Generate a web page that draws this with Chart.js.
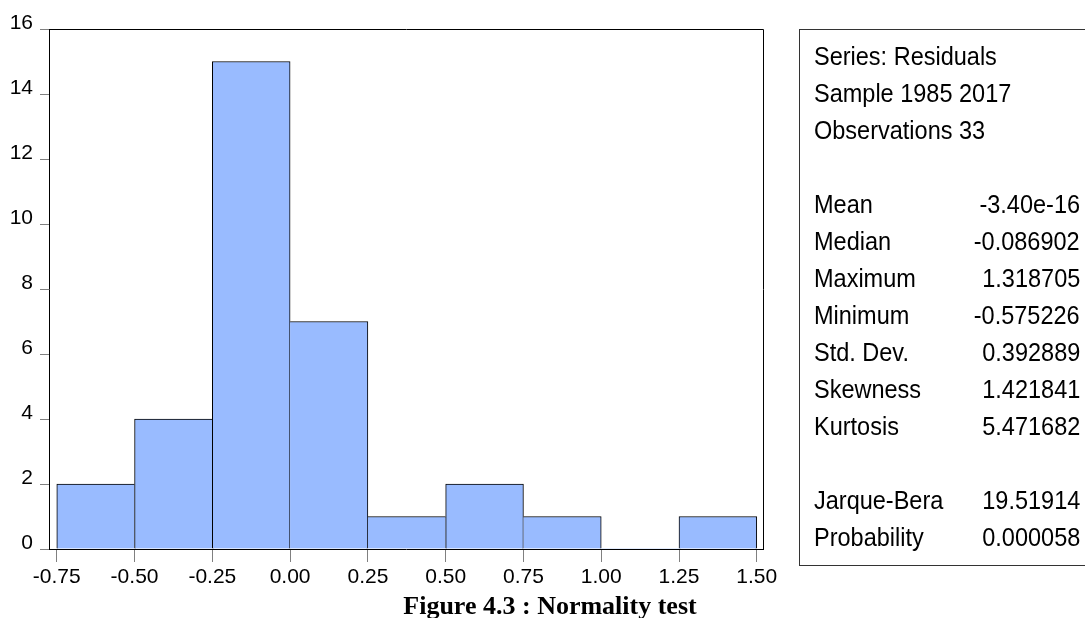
<!DOCTYPE html>
<html lang="en">

<head>
    <meta charset="UTF-8">
    <title>Normality test</title>
    <script src="https://cdn.jsdelivr.net/npm/chart.js"></script>
    <style>
        html, body { margin: 0; padding: 0; background: #fff; overflow: hidden; }
        #wrap { position: relative; width: 1085px; height: 618px; overflow: hidden; }
        #histChart { position: absolute; left: 0; top: 0; }
        #stats {
            position: absolute; left: 799px; top: 29px; width: 320px; height: 537px;
            border: 1px solid #333; box-sizing: border-box; padding-top: 8px;
            font-family: "Liberation Sans", Arial, sans-serif; font-size: 25px; color: #000;
        }
        .row { position: relative; height: 37px; line-height: 37px; margin-left: 14px; width: 266px; white-space: nowrap; }
        .row .lab { position: absolute; left: 0; transform: scaleX(0.94); transform-origin: left center; }
        .row .val { position: absolute; right: 0; transform: scaleX(0.94); transform-origin: right center; }
        #caption {
            position: absolute; left: 250px; width: 600px; top: 591px; line-height: 30px;
            text-align: center; font-family: "Liberation Serif", "Times New Roman", serif;
            font-weight: bold; font-size: 26px; color: #000;
        }
    </style>
</head>

<body>
    <div id="wrap">
        <canvas id="histChart" width="1085" height="618"></canvas>
        <div id="stats"></div>
        <div id="caption">Figure 4.3 : Normality test</div>
    </div>

    <script>
        // histogram data (bin edges + counts)
        const binEdges = [-0.75, -0.50, -0.25, 0.00, 0.25, 0.50, 0.75, 1.00, 1.25, 1.50];
        const counts = [2, 4, 15, 7, 1, 2, 1, 0, 1];
        const xTickValues = [-0.75, -0.50, -0.25, 0.00, 0.25, 0.50, 0.75, 1.00, 1.25, 1.50];
        const yTickValues = [0, 2, 4, 6, 8, 10, 12, 14, 16];

        // stats panel
        const headerLines = ["Series: Residuals", "Sample 1985 2017", "Observations 33"];
        const statLabels = ["Mean", "Median", "Maximum", "Minimum", "Std. Dev.", "Skewness", "Kurtosis"];
        const statValues = ["-3.40e-16", "-0.086902", "1.318705", "-0.575226", "0.392889", "1.421841", "5.471682"];
        const testLabels = ["Jarque-Bera", "Probability"];
        const testValues = ["19.51914", "0.000058"];

        const FONT = "'Liberation Sans', Arial, sans-serif";

        function addRow(box, label, value) {
            const row = document.createElement("div");
            row.className = "row";
            const l = document.createElement("span");
            l.className = "lab";
            l.textContent = label;
            row.appendChild(l);
            if (value !== undefined) {
                const v = document.createElement("span");
                v.className = "val";
                v.textContent = value;
                row.appendChild(v);
            }
            box.appendChild(row);
        }

        const box = document.getElementById("stats");
        headerLines.forEach(t => addRow(box, t));
        addRow(box, "\u00a0");
        statLabels.forEach((t, i) => addRow(box, t, statValues[i]));
        addRow(box, "\u00a0");
        testLabels.forEach((t, i) => addRow(box, t, testValues[i]));

        const barData = counts.map((c, i) => ({ x: (binEdges[i] + binEdges[i + 1]) / 2, y: c }));

        // draw top + right side of the plot frame
        const framePlugin = {
            id: "frame",
            afterDraw(chart) {
                const a = chart.chartArea;
                const ctx = chart.ctx;
                ctx.save();
                ctx.strokeStyle = "#000";
                ctx.lineWidth = 1;
                ctx.beginPath();
                ctx.moveTo(Math.round(a.left) + 0.5, Math.round(a.top) + 0.5);
                ctx.lineTo(Math.round(a.right) + 0.5, Math.round(a.top) + 0.5);
                ctx.lineTo(Math.round(a.right) + 0.5, Math.round(a.bottom) + 0.5);
                ctx.stroke();
                ctx.restore();
            }
        };

        new Chart(document.getElementById("histChart"), {
            type: "bar",
            data: {
                datasets: [{
                    data: barData,
                    backgroundColor: "#99BBFF",
                    borderColor: "#000",
                    borderSkipped: false,
                    borderWidth: (ctx) => {
                        const i = ctx.dataIndex;
                        const c = counts[i];
                        const prev = i > 0 ? counts[i - 1] : 0;
                        const next = i < counts.length - 1 ? counts[i + 1] : 0;
                        return {
                            top: c > 0 ? 1 : 0,
                            left: c > 0 && c >= prev ? 1 : 0,
                            right: c > next ? 1 : 0,
                            bottom: 0
                        };
                    },
                    barPercentage: 1,
                    categoryPercentage: 1
                }]
            },
            options: {
                responsive: false,
                animation: false,
                devicePixelRatio: 1,
                layout: { padding: { left: 0, top: 29, right: 322, bottom: 0 } },
                plugins: { legend: { display: false }, tooltip: { enabled: false } },
                scales: {
                    x: {
                        type: "linear",
                        min: -0.775,
                        max: 1.52,
                        offset: false,
                        afterBuildTicks: (s) => { s.ticks = xTickValues.map(v => ({ value: v })); },
                        afterFit: (s) => { s.height = 69; },
                        ticks: {
                            autoSkip: false,
                            maxRotation: 0,
                            padding: 3,
                            color: "#000",
                            font: { family: FONT, size: 21 },
                            callback: (v) => Number(v).toFixed(2)
                        },
                        grid: { drawOnChartArea: false, drawTicks: true, tickLength: 13, color: "#808080", offset: false },
                        border: { display: true, color: "#000", width: 1 }
                    },
                    y: {
                        min: 0,
                        max: 16,
                        afterBuildTicks: (s) => { s.ticks = yTickValues.map(v => ({ value: v })); },
                        afterFit: (s) => { s.width = 49; },
                        ticks: {
                            padding: 7,
                            labelOffset: -6,
                            color: "#000",
                            font: { family: FONT, size: 21 }
                        },
                        grid: { drawOnChartArea: false, drawTicks: true, tickLength: 9, color: "#808080" },
                        border: { display: true, color: "#000", width: 1 }
                    }
                }
            },
            plugins: [framePlugin]
        });
    </script>
</body>

</html>
